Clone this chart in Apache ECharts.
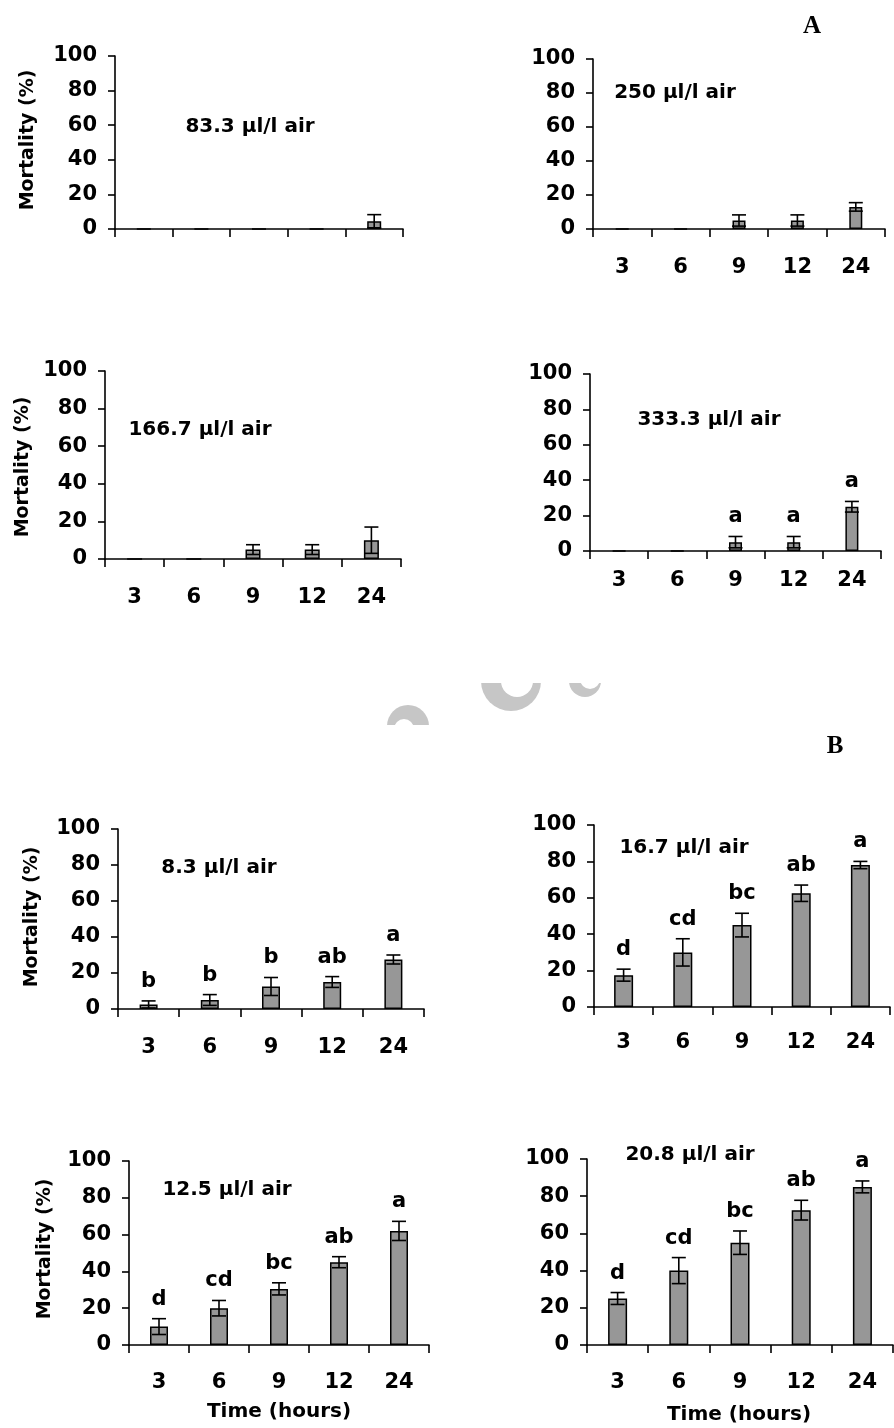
<!DOCTYPE html>
<html>
<head>
<meta charset="utf-8">
<script src="https://cdn.jsdelivr.net/npm/echarts@6/dist/echarts.min.js"></script>
<style>
  html, body { margin: 0; padding: 0; background: #fff; }
  #chart { width: 894px; height: 1428px; }
</style>
</head>
<body>
<div id="chart"></div>
<script>
// exposure time categories
const hours = ['3', '6', '9', '12', '24'];

// panel A (high doses)
const mort833 = [0, 0, 0, 0, 4.5];
const err833 = [0, 0, 0, 0, 3.8];
const mort250 = [0, 0, 5, 5, 13];
const err250 = [0, 0, 3.3, 3.3, 2.5];
const mort1667 = [0, 0, 5, 5, 10];
const err1667 = [0, 0, 2.6, 2.6, 7];
const mort3333 = [0, 0, 5, 5, 25];
const err3333 = [0, 0, 3.2, 3.2, 3];
const let3333 = ['', '', 'a', 'a', 'a'];

// panel B (low doses)
const mort83 = [2.5, 5, 12.5, 15, 27.5];
const err83 = [2, 3, 5, 3, 2.5];
const let83 = ['b', 'b', 'b', 'ab', 'a'];
const mort167 = [17.5, 30, 45, 62.5, 78];
const err167 = [3.3, 7.5, 6.5, 4.5, 2];
const let167 = ['d', 'cd', 'bc', 'ab', 'a'];
const mort125 = [10, 20, 30.5, 45, 62];
const err125 = [4.3, 4.2, 3.3, 3, 5.2];
const let125 = ['d', 'cd', 'bc', 'ab', 'a'];
const mort208 = [25, 40, 55, 72.5, 85];
const err208 = [3.2, 7, 6.3, 5.3, 3.2];
const let208 = ['d', 'cd', 'bc', 'ab', 'a'];

const panels = [
  { title: '83.3 µl/l air', mort: mort833, err: err833, letters: null },
  { title: '250 µl/l air', mort: mort250, err: err250, letters: null },
  { title: '166.7 µl/l air', mort: mort1667, err: err1667, letters: null },
  { title: '333.3 µl/l air', mort: mort3333, err: err3333, letters: let3333 },
  { title: '8.3 µl/l air', mort: mort83, err: err83, letters: let83 },
  { title: '16.7 µl/l air', mort: mort167, err: err167, letters: let167 },
  { title: '12.5 µl/l air', mort: mort125, err: err125, letters: let125 },
  { title: '20.8 µl/l air', mort: mort208, err: err208, letters: let208 },
];

// layout of each small chart (px)
const boxes = [
  { left: 115, top: 56, width: 288, height: 173, labels: false, gap: 28, bar: 14, tx: 250, ty: 127 },
  { left: 593, top: 59, width: 292, height: 170, labels: true, gap: 28, bar: 13, tx: 675, ty: 93 },
  { left: 105, top: 371, width: 296, height: 188, labels: true, gap: 28, bar: 15, tx: 200, ty: 430 },
  { left: 590, top: 374, width: 291, height: 177, labels: true, gap: 19, bar: 13, tx: 709, ty: 420 },
  { left: 118, top: 829, width: 306, height: 180, labels: true, gap: 28, bar: 18, tx: 219, ty: 868 },
  { left: 594, top: 825, width: 296, height: 182, labels: true, gap: 25, bar: 19, tx: 684, ty: 848 },
  { left: 129, top: 1161, width: 300, height: 184, labels: true, gap: 27, bar: 18, tx: 227, ty: 1190 },
  { left: 587, top: 1159, width: 306, height: 186, labels: true, gap: 27, bar: 19, tx: 690, ty: 1155 },
];

const FONT = '"DejaVu Sans", sans-serif';

function errRenderer(errs, letters) {
  return function (params, api) {
    const i = params.dataIndex;
    const idx = api.value(0);
    const val = api.value(1);
    const e = errs[i];
    const children = [];
    const style = { stroke: '#000', lineWidth: 1.6 };
    const half = 7;
    let topY = api.coord([idx, val])[1];
    if (e > 0) {
      const hi = api.coord([idx, val + e]);
      const lo = api.coord([idx, Math.max(val - e, 0)]);
      const x = hi[0];
      topY = hi[1];
      children.push({ type: 'line', shape: { x1: x, y1: hi[1], x2: x, y2: lo[1] }, style: style });
      children.push({ type: 'line', shape: { x1: x - half, y1: hi[1], x2: x + half, y2: hi[1] }, style: style });
      children.push({ type: 'line', shape: { x1: x - half, y1: lo[1], x2: x + half, y2: lo[1] }, style: style });
    }
    if (letters && letters[i]) {
      children.push({
        type: 'text',
        style: {
          text: letters[i], x: api.coord([idx, 0])[0], y: topY - 9,
          align: 'center', verticalAlign: 'bottom',
          font: 'bold 21px ' + FONT, fill: '#000'
        }
      });
    }
    return { type: 'group', children: children };
  };
}

const grid = [], xAxis = [], yAxis = [], series = [], graphic = [];

panels.forEach((p, k) => {
  const b = boxes[k];
  grid.push({ left: b.left, top: b.top, width: b.width, height: b.height });
  xAxis.push({
    type: 'category', gridIndex: k, data: hours,
    axisLine: { lineStyle: { color: '#000', width: 1.6 } },
    axisTick: { show: true, length: 8, lineStyle: { color: '#000', width: 1.6 } },
    axisLabel: { show: b.labels, margin: b.gap, color: '#000', fontFamily: FONT, fontWeight: 'bold', fontSize: 21 },
    splitLine: { show: false }
  });
  yAxis.push({
    type: 'value', gridIndex: k, min: 0, max: 100, interval: 20,
    axisLine: { show: true, lineStyle: { color: '#000', width: 1.6 } },
    axisTick: { show: true, length: 7, lineStyle: { color: '#000', width: 1.6 } },
    axisLabel: { margin: 18, color: '#000', fontFamily: FONT, fontWeight: 'bold', fontSize: 21 },
    splitLine: { show: false }
  });
  series.push({
    type: 'bar', xAxisIndex: k, yAxisIndex: k, data: p.mort, barWidth: b.bar,
    itemStyle: { color: '#979797', borderColor: '#000', borderWidth: 1.5 },
    silent: true, animation: false
  });
  series.push({
    type: 'custom', xAxisIndex: k, yAxisIndex: k,
    data: p.mort.map((v, i) => [i, v]),
    renderItem: errRenderer(p.err, p.letters),
    z: 5, silent: true, animation: false
  });
  graphic.push({
    type: 'text', x: b.tx, y: b.ty,
    style: { text: p.title, align: 'center', verticalAlign: 'middle', font: 'bold 20px ' + FONT, fill: '#000' }
  });
});

// y axis names (left column)
[[28, 140], [23, 467], [32, 917], [45, 1249]].forEach(pos => {
  graphic.push({
    type: 'text', x: pos[0], y: pos[1], rotation: Math.PI / 2,
    style: { text: 'Mortality (%)', align: 'center', verticalAlign: 'middle', font: 'bold 19px ' + FONT, fill: '#000' }
  });
});
// x axis names (bottom row)
[[279, 1412], [739, 1415]].forEach(pos => {
  graphic.push({
    type: 'text', x: pos[0], y: pos[1],
    style: { text: 'Time (hours)', align: 'center', verticalAlign: 'middle', font: 'bold 20px ' + FONT, fill: '#000' }
  });
});
// figure letters
graphic.push({ type: 'text', x: 812, y: 27, style: { text: 'A', align: 'center', verticalAlign: 'middle', font: 'bold 25px "Liberation Serif", serif', fill: '#000' } });
graphic.push({ type: 'text', x: 835, y: 747, style: { text: 'B', align: 'center', verticalAlign: 'middle', font: 'bold 25px "Liberation Serif", serif', fill: '#000' } });

// faint watermark fragments: grey disc, white hole, white mask
const wm = '#c6c6c6';
graphic.push({ type: 'circle', shape: { cx: 408, cy: 726, r: 21 }, style: { fill: wm }, silent: true, z: 1 });
graphic.push({ type: 'circle', shape: { cx: 404, cy: 729, r: 10 }, style: { fill: '#fff' }, silent: true, z: 2 });
graphic.push({ type: 'rect', shape: { x: 380, y: 725, width: 60, height: 30 }, style: { fill: '#fff' }, silent: true, z: 3 });
graphic.push({ type: 'circle', shape: { cx: 511, cy: 681, r: 30 }, style: { fill: wm }, silent: true, z: 1 });
graphic.push({ type: 'circle', shape: { cx: 517, cy: 681, r: 16 }, style: { fill: '#fff' }, silent: true, z: 2 });
graphic.push({ type: 'rect', shape: { x: 470, y: 640, width: 140, height: 43 }, style: { fill: '#fff' }, silent: true, z: 3 });
graphic.push({ type: 'circle', shape: { cx: 585, cy: 681, r: 16 }, style: { fill: wm }, silent: true, z: 1 });
graphic.push({ type: 'circle', shape: { cx: 590, cy: 679, r: 10 }, style: { fill: '#fff' }, silent: true, z: 2 });

const myChart = echarts.init(document.getElementById('chart'));
myChart.setOption({
  animation: false,
  backgroundColor: '#fff',
  grid: grid,
  xAxis: xAxis,
  yAxis: yAxis,
  series: series,
  graphic: graphic
});
</script>
</body>
</html>
